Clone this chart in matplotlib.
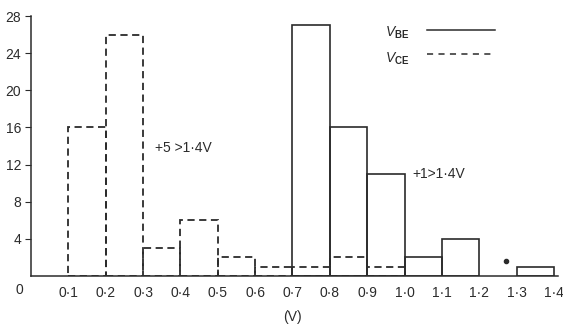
import numpy as np
from matplotlib import pyplot as plt

# histogram bins (V), left edges
EDGES = [0.0, 0.1, 0.2, 0.3, 0.4, 0.5, 0.6, 0.7, 0.8, 0.9, 1.0, 1.1, 1.2, 1.3]
VCE = [0, 16, 26, 3, 6, 2, 1, 1, 2, 1, 0, 0, 0, 0]
VBE = [0, 0, 0, 0, 0, 0, 0, 27, 16, 11, 2, 4, 0, 1]
XTICKS = [0.1, 0.2, 0.3, 0.4, 0.5, 0.6, 0.7, 0.8, 0.9, 1.0, 1.1, 1.2, 1.3, 1.4]
XLABELS = ["0·1", "0·2", "0·3", "0·4", "0·5", "0·6", "0·7",
           "0·8", "0·9", "1·0", "1·1", "1·2", "1·3", "1·4"]
YTICKS = [4, 8, 12, 16, 20, 24, 28]

INK = "#2b2b2b"
plt.rcParams["font.family"] = ["Liberation Sans", "DejaVu Sans"]
plt.rcParams["mathtext.fontset"] = "custom"
plt.rcParams["mathtext.it"] = "Liberation Sans:italic"
plt.rcParams["mathtext.rm"] = "Liberation Sans"
plt.rcParams["mathtext.bf"] = "Liberation Sans:bold"

fig = plt.figure(figsize=(5.63, 3.25), dpi=100)
ax = fig.add_axes([31 / 563, 49 / 325, 526.7 / 563, 260 / 325])

edges = np.array(EDGES)
vce = np.array(VCE)
vbe = np.array(VBE)

m = vce > 0
ax.bar(edges[m], vce[m], width=0.1, align="edge", fill=False,
       edgecolor=INK, linewidth=1.3, linestyle=(0, (4, 2.5)))
m = vbe > 0
ax.bar(edges[m], vbe[m], width=0.1, align="edge", fill=False,
       edgecolor=INK, linewidth=1.2)

# stray dot in the original figure
ax.plot([1.271], [1.6], "o", color=INK, markersize=3)

ax.set_xlim(0, 1.41)
ax.set_ylim(0, 28)
ax.set_xticks(XTICKS)
ax.set_xticklabels(XLABELS)
ax.set_yticks(YTICKS)
ax.tick_params(axis="x", length=0, pad=7, labelsize=10, colors=INK)
ax.tick_params(axis="y", direction="out", length=4, pad=3, labelsize=10,
               colors=INK)
for s in ["top", "right"]:
    ax.spines[s].set_visible(False)
for s in ["left", "bottom"]:
    ax.spines[s].set_color(INK)
    ax.spines[s].set_linewidth(1.1)

ax.text(-0.03, -1.5, "0", ha="center", va="center", fontsize=10,
        color=INK, clip_on=False)
ax.text(0.70, -4.4, "(V)", ha="center", va="center", fontsize=10,
        color=INK, clip_on=False)

# legend
ax.text(0.948, 26.2, r"$V_{\mathbf{BE}}$", ha="left", va="center",
        fontsize=10, color=INK)
ax.plot([1.06, 1.242], [26.5, 26.5], color=INK, linewidth=1.1)
ax.text(0.948, 23.4, r"$V_{\mathbf{CE}}$", ha="left", va="center",
        fontsize=10, color=INK)
ax.plot([1.06, 1.242], [23.9, 23.9], color=INK, linewidth=1.1,
        linestyle=(0, (4, 3.5)))

ax.text(0.332, 13.8, "+5 >1·4V", ha="left", va="center", fontsize=10,
        color=INK)
ax.text(1.022, 11.0, "+1>1·4V", ha="left", va="center", fontsize=10,
        color=INK)

fig.savefig("out.png", dpi=100)
